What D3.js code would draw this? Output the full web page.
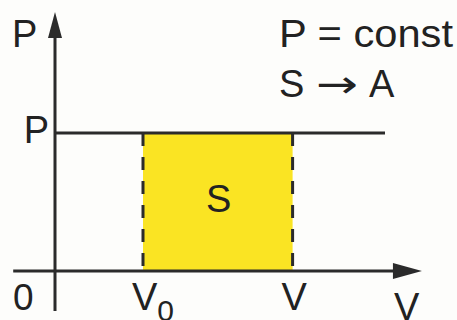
<!DOCTYPE html>
<html lang="en">
<head>
    <meta charset="UTF-8">
    <title>P = const</title>
    <script src="https://d3js.org/d3.v7.min.js"></script>
    <style>
        body { margin: 0; background: #fdfdfb; }
        svg { display: block; }
        text { font-family: "Liberation Sans", Arial, sans-serif; fill: #222; }
    </style>
</head>
<body>
    <div id="chart"></div>

    <script>
        // values (arbitrary units)
        const pressure = 5;            // P = const
        const volumes = [2, 5.4];      // V0 and V
        const volumeLabels = ["V", "V"];
        const volumeSubs = ["0", ""];
        const noteTop = "P = const";
        const noteBottom = ["S", "\u2192", "A"];

        const width = 457, height = 320;

        const x = d3.scaleLinear().domain([0, 10]).range([55, 495]);
        const y = d3.scaleLinear().domain([0, 10]).range([271, -5]);

        const svg = d3.select("#chart").append("svg")
            .attr("width", width)
            .attr("height", height);

        svg.append("rect")
            .attr("width", width).attr("height", height)
            .attr("fill", "#fdfdfb");

        // work area under the isobar
        svg.append("rect")
            .attr("x", x(volumes[0]))
            .attr("y", y(pressure))
            .attr("width", x(volumes[1]) - x(volumes[0]))
            .attr("height", y(0) - y(pressure))
            .attr("fill", "#fae423");

        const ink = "#2b2b2b";

        // axes
        svg.append("line")
            .attr("x1", x(-0.95)).attr("x2", x(8.0))
            .attr("y1", y(0)).attr("y2", y(0))
            .attr("stroke", ink).attr("stroke-width", 3);
        svg.append("line")
            .attr("x1", x(0)).attr("x2", x(0))
            .attr("y1", y(-1.45)).attr("y2", y(8.6))
            .attr("stroke", ink).attr("stroke-width", 3);

        // arrow heads
        const xTip = x(8.34), yTip = y(9.38);
        svg.append("path")
            .attr("d", `M${xTip},${y(0)} L${xTip - 29},${y(0) - 8} L${xTip - 29},${y(0) + 8} Z`)
            .attr("fill", ink);
        svg.append("path")
            .attr("d", `M${x(0)},${yTip} L${x(0) - 7},${yTip + 26} L${x(0) + 7},${yTip + 26} Z`)
            .attr("fill", ink);

        // isobar
        svg.append("line")
            .attr("x1", x(0)).attr("x2", x(7.5))
            .attr("y1", y(pressure)).attr("y2", y(pressure))
            .attr("stroke", ink).attr("stroke-width", 3);

        // dashed verticals at V0 and V
        svg.selectAll("line.drop")
            .data(volumes)
            .join("line")
            .attr("class", "drop")
            .attr("x1", d => x(d)).attr("x2", d => x(d))
            .attr("y1", y(pressure)).attr("y2", y(0))
            .attr("stroke", ink).attr("stroke-width", 3)
            .attr("stroke-dasharray", "13,11");

        // tick labels
        const labels = svg.selectAll("text.vlab")
            .data(volumes)
            .join("text")
            .attr("class", "vlab")
            .attr("x", d => x(d))
            .attr("y", 310)
            .attr("dx", -11)
            .style("font-size", "38px");
        labels.append("tspan").text((d, i) => volumeLabels[i]);
        labels.append("tspan")
            .attr("dy", 11)
            .style("font-size", "30px")
            .text((d, i) => volumeSubs[i]);

        svg.append("text").attr("x", 13).attr("y", 310)
            .style("font-size", "37px").text("0");
        svg.append("text").attr("x", x(0) - 6).attr("y", y(pressure) + 10)
            .attr("text-anchor", "end")
            .style("font-size", "38px").text("P");
        svg.append("text").attr("x", 12).attr("y", 47)
            .style("font-size", "38px").text("P");
        svg.append("text").attr("x", 394).attr("y", 320)
            .style("font-size", "38px").text("V");

        svg.append("text")
            .attr("x", (x(volumes[0]) + x(volumes[1])) / 2 + 1)
            .attr("y", 212)
            .attr("text-anchor", "middle")
            .style("font-size", "38px").text("S");

        svg.append("text")
            .attr("x", 279).attr("y", 47)
            .style("font-size", "38px")
            .attr("textLength", 174)
            .attr("lengthAdjust", "spacingAndGlyphs")
            .text(noteTop);

        const bottom = svg.append("text").attr("y", 97).style("font-size", "38px");
        bottom.append("tspan").attr("x", 279).text(noteBottom[0]);
        bottom.append("tspan").attr("x", 316)
            .style("font-family", "DejaVu Sans")
            .attr("textLength", 42)
            .attr("lengthAdjust", "spacingAndGlyphs")
            .text(noteBottom[1]);
        bottom.append("tspan").attr("x", 369).text(noteBottom[2]);
    </script>
</body>
</html>
